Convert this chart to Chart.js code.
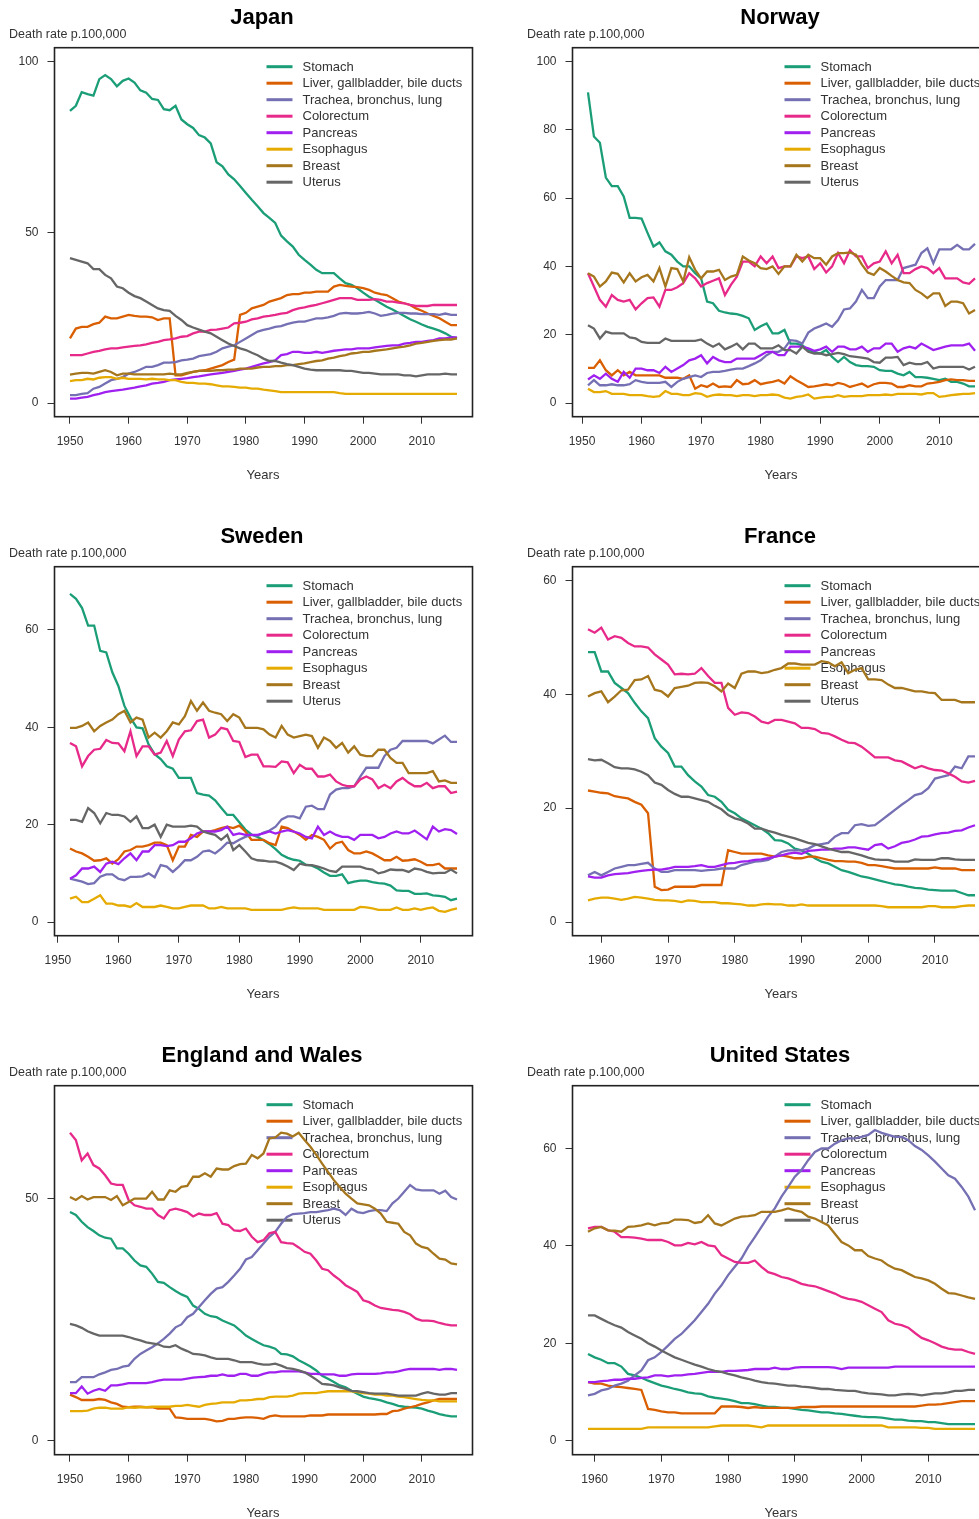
<!DOCTYPE html>
<html><head><meta charset="utf-8">
<script src="https://cdn.jsdelivr.net/npm/chart.js@4.4.1/dist/chart.umd.min.js"></script>
<style>
html,body{margin:0;padding:0;background:#fff;}
body{width:979px;height:1519px;overflow:hidden;position:relative;font-family:"Liberation Sans",Arial,sans-serif;}
.cell{position:absolute;width:518px;height:519px;}
.cell canvas{position:absolute;left:0;top:0;}
.title{position:absolute;left:112px;width:300px;text-align:center;top:6px;font-size:22px;font-weight:bold;line-height:22px;color:#000;white-space:nowrap;}
.ylab{position:absolute;left:9px;top:28px;font-size:12.5px;line-height:13px;color:#333;white-space:nowrap;}
.xlab{position:absolute;left:163px;width:200px;text-align:center;top:468px;font-size:13px;line-height:13px;color:#333;}
</style></head><body>
<script>
// ---------- categories ----------
const seriesNames = ['Stomach','Liver, gallbladder, bile ducts','Trachea, bronchus, lung','Colorectum','Pancreas','Esophagus','Breast','Uterus'];
const seriesColors = ['#1B9E77','#D95F02','#7570B3','#E7298A','#A020F0','#E6AB02','#A6761D','#666666'];
const countryNames = ['Japan','Norway','Sweden','France','England and Wales','United States'];
const firstYears = [1950,1951,1952,1958,1950,1959];
const lastYears  = [2016,2016,2016,2016,2016,2017];
const decadeTicks = [1950,1960,1970,1980,1990,2000,2010];
const decadeTicks60 = [1960,1970,1980,1990,2000,2010];
const yTicks100by50 = [0,50,100];
const yTicks100by20 = [0,20,40,60,80,100];
const yTicks60by20 = [0,20,40,60];
const yTicks50 = [0,50];

// ---------- Japan 1950-2016 ----------
const japanStomach = [85.5,87,91,90.4,90,94.8,96,94.8,92.7,94.3,
95,93.8,91.5,90.8,89,88.7,86,85.7,87,83,
81.6,80.5,78.4,77.7,76,70.5,69.3,66.9,65.5,63.5,
61.5,59.5,57.6,55.6,54.2,52.7,49,47.3,45.8,43.4,
41.9,40.5,39,38,38,38,36.5,35.1,34.6,33.6,
32.3,31.1,30.2,29.2,28.2,27.4,26.4,25.5,24.5,23.8,
23,22.3,21.8,21.2,20.4,19.4,18.9];
const japanLiver = [18.9,21.8,22.3,22.3,23.1,23.5,25.3,24.8,24.8,25.3,
25.8,25.5,25.3,25.3,25.1,24.3,24.8,24.8,8.1,8.1,
8.6,9.1,9.4,9.6,10.1,10.6,11.1,12,12.7,25.8,
26.4,27.7,28.2,28.7,29.7,30.2,30.7,31.6,31.9,31.9,
32.3,32.3,32.6,32.6,32.6,34.1,34.6,34.3,34.1,33.9,
33.6,33.1,32.3,31.9,31.6,30.7,29.7,29.2,28.7,27.7,
27,26.2,25.5,24.8,23.8,22.8,22.8];
const japanLung = [2.3,2.3,2.7,2.9,4.2,4.7,5.7,6.7,7.1,7.6,
8.6,9.1,9.8,10.6,10.6,11.1,11.8,11.8,12,12.5,
12.7,13,13.7,14,14.3,15,16,16.5,16.9,17.9,
18.9,19.9,20.9,21.4,21.8,22.3,22.5,23.1,23.5,23.8,
23.8,24.3,24.8,24.8,25.1,25.5,26.2,26.4,26.2,26.2,
26.4,26.7,26.2,25.5,25.8,26.2,26.4,26.4,26.2,26.2,
26,26,26,25.8,26.2,25.8,25.8];
const japanColorectum = [14,14,14,14.5,15,15.3,15.7,16,16,16.3,
16.5,16.7,16.9,17.2,17.6,17.9,18.4,18.6,18.9,19.4,
19.6,20.4,20.9,20.9,21.4,21.5,21.8,22.1,23.3,23.5,
23.8,24.5,24.8,25.3,25.5,25.8,26.2,26.4,27.2,27.7,
28,28.4,28.7,29.2,29.7,30.2,30.7,30.7,30.7,30.2,
30.2,30.2,30.4,30.2,29.7,29.7,29.4,29.2,28.7,28.4,
28.4,28.4,28.7,28.7,28.7,28.7,28.7];
const japanPancreas = [1.3,1.3,1.6,1.8,2.3,2.7,3.2,3.5,3.7,3.9,
4.2,4.5,4.9,5.2,5.7,5.9,6.2,6.7,6.9,7.1,
7.3,7.6,7.8,8.1,8.4,8.6,8.8,9.1,9.4,9.8,
10.1,10.6,11.1,11.6,12,12.5,14,14.3,15,15,
14.7,14.7,15,14.7,15,15.3,15.5,15.7,15.7,16,
16,16,16.3,16.5,16.7,16.9,16.9,17.4,17.6,17.9,
17.9,18.2,18.4,18.9,18.9,19.2,19.2];
const japanEsophagus = [6.4,6.7,6.7,7.1,6.9,7.4,7.6,7.6,7.1,7.4,
7.1,7.1,7.1,6.9,7.1,6.9,6.9,6.7,6.7,6.2,
5.9,5.9,5.7,5.7,5.5,5.2,4.9,4.9,4.7,4.5,
4.5,4.2,4.2,3.9,3.7,3.5,3.2,3.2,3.2,3.2,
3.2,3.2,3.2,3.2,3.2,3.2,2.9,2.7,2.7,2.7,
2.7,2.7,2.7,2.7,2.7,2.7,2.7,2.7,2.7,2.7,
2.7,2.7,2.7,2.7,2.7,2.7,2.7];
const japanBreast = [8.3,8.6,8.8,8.8,8.6,9.1,9.6,9.1,8.1,8.6,
8.6,8.4,8.4,8.4,8.4,8.4,8.4,8.6,8.4,8.4,
8.8,9.1,9.4,9.4,9.4,9.6,9.6,9.8,9.8,10.1,
10.1,10.1,10.4,10.6,10.6,10.8,10.8,11.1,11.1,11.4,
11.6,12,12.3,12.5,13,13.3,13.7,14,14.5,14.7,
15,15,15.3,15.5,15.7,16,16.3,16.5,16.9,17.4,
17.6,17.9,18.2,18.4,18.6,18.6,18.9];
const japanUterus = [42.4,41.9,41.4,40.9,39.2,39.2,37.5,36.5,34.1,33.6,
32.3,31.3,30.7,29.7,28.7,27.7,27.2,27,25.5,24.3,
22.8,22.1,21.5,20.9,20.4,19.4,18.4,17.4,16.7,16,
15.5,14.7,14,13,12.3,12.3,11.8,11.4,11.1,10.6,
10.1,9.8,9.6,9.6,9.6,9.6,9.6,9.4,9.4,9.1,
8.8,8.8,8.6,8.4,8.4,8.4,8.4,8.1,8.1,7.8,
8.1,8.4,8.4,8.4,8.6,8.4,8.4];

// ---------- Norway 1951-2016 ----------
const norwayStomach = [90.9,78,76.2,66,63.5,63.5,60.5,54.2,54.2,
54,49.8,45.8,47,44.4,43.4,41.4,40,40,38,
36.5,29.7,29.2,27,26.5,26.2,26,25.5,24.8,21.4,
22.5,23.3,20.4,20.4,21.4,17.4,17.4,16.9,15.5,15,
14.5,15.5,13.5,12,13.5,12,11.1,10.8,10.8,10.6,
9.6,9.4,9.4,8.6,8.1,9.1,7.6,7.6,7.4,7.1,
6.7,7.1,6.2,6.2,5.7,4.9,4.9];
const norwayLiver = [10.3,10.3,12.5,9.6,8.1,9.6,8.1,9.1,8.1,
8.1,8.1,8.1,8.1,7.4,7.4,7.4,7.1,8.1,4.2,
5.2,4.7,5.7,4.7,4.9,4.7,6.7,5.5,5.7,6.7,
5.5,5.9,6.2,6.7,5.7,7.8,6.7,5.7,4.7,4.9,
5.2,5.5,5.2,5.9,5.5,4.7,5.2,5.7,4.7,5.5,
5.9,5.9,5.7,4.7,4.7,5.2,4.9,4.9,5.7,5.9,
6.2,6.7,6.9,6.7,6.7,6.5,6.5];
const norwayLung = [5.2,6.7,5.2,5.2,5.5,5.2,5.2,5.5,6.7,
6.2,5.9,5.9,5.9,6.2,4.7,6.2,7.1,7.6,8.1,
7.6,8.8,9.1,9.1,9.4,9.8,10.1,10.1,10.8,11.6,
12.5,14,15,15,16,18.4,18.2,17.4,20.6,21.8,
22.5,23.3,22.3,24.3,27.4,27.7,29.7,33.1,30.7,30.7,
34.1,36,36,36,39.5,40,40.5,43.9,45.3,40.9,
45,45,45,46.3,45,45,46.6];
const norwayColorectum = [38,34.1,30.2,28.2,31.6,30.2,29.7,30.2,27.4,
29.2,30.7,30.9,28.2,33.1,33.1,33.9,35.1,38,36.5,
34.1,35.1,35.8,36.5,31.6,34.6,37,41.4,41.4,40,
42.9,40.9,42.9,39.5,40,40,42.9,42.4,42.9,39.2,
40.9,38.2,40,43.9,40.9,44.7,42.9,42.9,39.5,40.9,
41.4,44.4,40.9,43.4,38,38,39.2,40,39.5,38,
39.5,36.5,36.5,36.5,35.3,34.9,36.5];
const norwayPancreas = [6.9,8.1,7.1,8.6,7.1,6.2,9.1,7.4,10.1,
10.1,9.6,9.6,8.8,10.6,9.1,10.1,11.1,12.5,13,
14,11.6,13.5,12.5,12,12,13,13,13,13,
14,15,15,14,14,16.5,16.5,16.5,16,15.3,
15.7,16.5,15,16.5,16.5,15.7,15.7,16.5,15,16,
16,17.4,17.4,15,16,16.5,16,17.4,16.5,15.5,
16,16.5,16.9,16.9,16.9,17.4,15.3];
const norwayEsophagus = [4.2,3.2,3.2,3.5,2.7,2.7,2.7,2.3,2.3,
2.3,2,1.8,2,3.5,2.7,2.7,2.3,2.3,2.9,
2.7,1.8,2.3,2.5,2.3,2.3,2,2.3,2.3,2,
2.3,2.3,2.5,2.3,1.6,1.3,1.8,2,2.5,1.3,
1.6,1.8,1.8,2.3,1.8,2,2,2,2.3,2.3,
2.3,2.5,2.3,2.7,2.7,2.7,2.7,2.5,2.9,2.9,
1.8,2,2.3,2.5,2.7,2.7,2.9];
const norwayBreast = [38,37,34.1,35.6,38.2,37.8,35.3,38,35.6,
36.8,37.5,35.6,39.5,34.1,39.5,39.2,35.6,42.7,39,
36.5,38.5,38.5,39,36,37,37.5,42.9,41.7,40.9,
39.5,39.2,40,37.8,40,40,43.4,41.4,43.4,42.4,
42.4,40.5,42.9,43.9,43.9,44.1,43.4,40.5,38.2,37.5,
39.5,38.5,37.2,36,35.3,35.1,33.1,32.1,30.7,32.1,
32.1,28.4,29.7,29.7,29.2,26.2,27.2];
const norwayUterus = [22.8,21.8,18.9,20.9,20.4,20.4,20.4,19.2,18.9,
17.9,17.6,17.6,17.6,18.9,18.2,18.2,18.2,18.2,18.2,
18.6,17.4,16.5,17.4,15.7,16.5,17.4,15.7,17.4,17.4,
16,16,16,16.9,15.5,15.5,14.5,16.5,15,14.5,
14.5,14,14.3,14.7,14.3,13.7,13.5,13.3,13,12,
11.8,13.3,13.3,13.5,11.1,11.8,11.4,11.4,12,10.1,
10.6,10.6,10.6,10.6,10.6,9.8,10.6];

// ---------- Sweden 1952-2016 ----------
const swedenStomach = [67.4,66.4,64.5,60.9,60.9,55.7,55.4,51.3,
48.5,44.4,42,40,39.8,36.5,34.5,33.5,32,31.5,
29.6,29.6,29.6,26.5,26.2,26,25,23.5,22,22,
20.5,19,18,17.5,16.8,16,15,13.8,13.2,12.8,
12.6,11.8,11.6,11,10.2,9.5,9.5,9.8,8,8.3,
8.5,8.5,8.2,8,7.9,7.5,6.5,6.4,6.4,5.8,
5.8,5.9,5.5,5.4,5.2,4.5,4.8];
const swedenLiver = [15.1,14.5,14.1,13.4,12.6,12.7,13.1,12,
12.9,14.5,14.8,15.5,15.5,15.8,16.3,16.3,15.8,12.7,
15.5,15.5,17.9,17.5,18.6,18.6,18.9,19.3,19.6,19.3,
19.8,18.6,16.9,16.9,16.9,16.2,15.8,19.6,19.3,18.6,
17.9,16.9,17.9,17.5,16.9,15.1,16.2,16.5,14.8,14.1,
14.1,14.5,14.1,13.4,12.7,12.7,13.4,12.6,12.7,12.9,
12.4,11.7,11.7,12,11,11,11];
const swedenLung = [8.9,8.6,8.3,7.8,8,9.3,9.8,9.8,
8.9,8.6,9.3,9.3,9.4,10,9.2,11.7,11.4,10.3,
11.4,12.7,12.7,13.4,14.5,14.7,14.1,15.1,16.3,16.2,
16.9,17.5,17.9,17.7,18.4,18.8,19.6,21.1,21.7,21.7,
21.3,23.7,23.9,23.2,23.2,26.2,27.2,27.5,27.5,27.9,
29.9,31.7,31.7,31.7,34.1,35.4,35.8,37.2,37.2,37.2,
37.2,37.2,36.7,37.5,38.3,37,37];
const swedenColorectum = [36.8,36.1,32,34.1,35.4,35.6,37.4,36.8,
36.7,35.1,39.2,34.1,36.1,36.1,34.4,34.8,37.2,34.1,
37.5,39.2,39.4,41.3,41.6,37.9,38.5,39.9,39.6,37.2,
37,33.9,34.4,34.4,32,32,31.9,33,32.8,30.6,
32.3,31.5,31.5,29.9,29.9,30.3,28.9,28.2,27.9,27.9,
29.3,29.9,29.3,27.5,28.2,27.5,28.9,29.6,28.6,27.9,
27.9,28.6,27.5,27.9,27.9,26.5,26.8];
const swedenPancreas = [8.9,9.6,11,11,11.4,10.3,12,12.4,
11.9,13.1,14.1,12.7,14.5,14.5,15.8,15.8,15.6,15.8,
16.5,16.5,17.2,18.2,18.6,18.6,18.6,18.9,19.6,17.9,
18.2,17.9,17.9,17.9,18.2,18.6,18.2,18.6,18.9,18.6,
18.2,17.5,17.2,19.6,17.9,18.6,17.9,17.5,17.5,16.9,
17.9,17.9,17.9,17.2,17.5,18.2,18.6,18.2,18.2,18.8,
17.9,17,19.6,18.6,19.1,18.9,18.1];
const swedenEsophagus = [4.8,5.2,4.1,4.1,4.8,5.5,3.8,3.8,
3.4,3.4,3.1,3.9,3.1,3.1,3.1,3.4,3.1,2.8,
2.8,3.1,3.4,3.4,3.4,2.8,2.8,3.1,2.8,2.8,
2.8,2.8,2.5,2.5,2.5,2.5,2.5,2.5,2.8,3,
2.8,2.8,2.8,2.8,2.5,2.5,2.5,2.5,2.5,2.5,
3.1,3,2.8,2.5,2.5,2.5,3,2.5,2.5,2.8,
2.5,2.8,3,2.3,2.1,2.5,2.8];
const swedenBreast = [39.9,39.9,40.3,41,39.2,40.3,41,41.6,
42.7,43.4,41,42,41.6,37.9,38.9,37.9,39.2,41,
40.6,42.3,45.4,43.4,45.1,43.4,43,42.7,41.3,42.7,
42,39.9,39.9,39.9,39.6,38.5,37.9,40.3,38.5,37.9,
38.2,38.5,38.2,35.8,37.9,37.2,35.8,36.8,34.8,36.1,
34.4,34.1,34.1,35.4,35.4,33.7,32.7,32.7,30.6,30.6,
30.6,30.6,31,28.9,29.1,28.6,28.6];
const swedenUterus = [21,21,20.6,23.4,22.4,20.3,22.4,22,
22,21.7,20.6,21.7,19.3,19.3,20,17.5,20,19.6,
19.6,19.6,19.8,19.6,18.6,18.2,17.9,16.9,17.9,14.8,
15.8,14.5,13.1,12.7,12.6,12.4,12.4,12,11.4,10.7,
12,11.7,11.7,11.4,11,10.5,10.3,11.4,11.4,11.4,
11.4,11,10.8,10,10.3,10.8,10.7,10.7,10.3,11,
10.8,10.3,10,10.1,10.1,10.8,10];

// ---------- France 1958-2016 ----------
const franceStomach = [47.4,47.4,
44,44,42,41.1,40.2,38.5,37,35.8,32.3,30.8,
29.7,27.3,27.3,25.8,24.7,23.8,22.3,22,21.1,19.7,
19.1,18.2,17.6,17,16.4,15.6,14.4,14.3,13.8,12.9,
12.6,12,11.2,10.6,10.3,9.7,9.1,8.8,8.4,8,
7.8,7.5,7.2,6.9,6.6,6.5,6.2,6,5.9,5.7,
5.6,5.5,5.5,5.5,5.1,4.7,4.7];
const franceLiver = [23.1,22.9,
22.7,22.6,22.1,21.9,21.7,21.1,20.6,19.1,6.2,5.6,
5.7,6.2,6.2,6.2,6.2,6.5,6.5,6.5,6.5,12.6,
12.3,12,12,12,12,11.7,11.5,11.7,11.5,11.2,
11.2,11.5,11.5,11.2,10.9,10.7,10.7,10.6,10.6,10.4,
10,10,9.8,9.6,9.4,9.4,9.4,9.4,9.4,9.4,
9.6,9.4,9.4,9.4,9.1,9.1,9.1];
const franceLung = [8.2,8.8,
8.2,8.8,9.4,9.7,10,10,10.2,10.4,9.4,8.8,
8.8,9.1,9.1,9.1,9.1,9,9.1,9.2,9.4,9.4,
9.4,10,10.3,10.6,10.7,10.9,11.5,12.3,12.6,12.6,
12.6,12.9,13.5,13.7,13.9,15,15.6,15.6,17,17.2,
16.9,17,17.9,18.8,19.7,20.6,21.4,22.3,22.6,23.5,
25.2,25.5,25.8,27.3,27,29.1,29.1];
const franceColorectum = [51.4,50.8,
51.7,49.6,50.2,49.9,49,48.4,48.4,48.2,47,46.1,
45.2,43.5,43.6,43.5,43.6,44.6,43.2,42,42,37.6,
36.4,36.8,36.7,36.1,35.2,34.9,35.5,35.5,35.2,34.9,
34.1,34.1,33.9,33.2,33.1,32.6,32,31.5,31.4,30.8,
29.9,28.9,28.9,28.9,28.4,28.2,27.6,27,27.4,27,
26.7,26.6,26.1,25.5,24.7,24.5,24.8];
const francePancreas = [8,7.8,
7.8,8.2,8.4,8.5,8.6,8.8,9,9.1,9.2,9.2,
9.4,9.7,9.7,9.7,9.8,10,9.7,9.7,10,10.3,
10.4,10.6,10.7,10.9,11,11.2,11.5,11.7,12,12.2,
12,12.5,12.6,12.7,12.7,12.9,12.9,13.1,13.1,12.9,
12.7,13.5,13.7,12.9,13.3,13.9,14.1,14.5,15,15.1,
15.4,15.6,15.7,16,16.1,16.6,17];
const franceEsophagus = [3.8,4.1,
4.3,4.3,4.1,3.9,4.1,4.4,4.3,4.1,3.9,3.8,
3.8,3.7,3.5,3.8,3.7,3.5,3.5,3.5,3.3,3.3,
3.2,3.1,2.9,2.9,3.1,3.2,3.1,3.1,2.9,2.9,
3.1,2.9,2.9,2.9,2.9,2.9,2.9,2.9,2.9,2.9,
2.9,2.9,2.8,2.6,2.6,2.6,2.6,2.6,2.6,2.8,
2.8,2.6,2.6,2.6,2.8,2.9,2.9];
const franceBreast = [39.6,40.2,
40.5,38.6,39.6,40.7,40.8,42.5,42.6,43.2,40.8,40.5,
39.6,41.1,41.3,41.5,42,42.1,42,41.4,40.5,41.9,
41.1,43.6,44,44,43.7,43.9,44.3,44.6,45.4,45.4,
45.2,45.2,45.2,45.8,45.6,44.9,45.6,43.7,44.3,44.6,
42.6,42.6,42.5,41.7,41.1,41.1,40.8,40.5,40.5,40.3,
40.2,39,39,39,38.6,38.6,38.6];
const franceUterus = [28.6,28.4,
28.5,27.9,27.2,27,27,26.8,26.4,25.8,24.5,24.1,
23.2,22.5,22,22,21.7,21.4,21.1,20.4,19.8,18.8,
18.2,17.9,17.3,16.4,16.4,16,15.7,15.3,15,14.7,
14.3,13.9,13.7,13.3,12.9,12.6,12.3,12.3,12,11.7,
11.3,11,10.9,10.9,10.6,10.6,10.6,11,10.9,10.9,
10.9,11.2,11.2,11,10.9,10.9,10.9];

// ---------- England and Wales 1950-2016 ----------
const englandStomach = [47.2,46.6,45.2,44.1,43.3,42.4,41.9,41.7,39.7,39.7,
38.6,37.2,36.2,35.9,34.5,32.8,32.6,31.7,30.9,30.2,
29.7,27.9,27.2,26.2,25.7,25.5,24.8,24.3,23.8,22.8,
21.7,21,20.3,19.7,19.4,19,17.9,17.8,17.4,16.6,
16,15.3,14.5,13.4,12.8,12.1,11.4,11,10.3,9.7,
9.1,8.8,8.6,8.3,7.9,7.6,7.2,7,6.9,6.8,
6.6,6.2,5.9,5.5,5.2,5,5];
const englandLiver = [9.5,9,8.4,8.4,8.4,8.6,8.4,7.9,7.6,7,
6.9,7,7,6.9,6.9,6.6,6.6,6.6,4.8,4.7,
4.5,4.5,4.5,4.5,4.3,4,4.1,4.5,4.5,4.7,
4.8,4.8,4.7,4.5,5,5.2,5,5,5,5,
5,5.2,5.2,5.2,5.4,5.4,5.4,5.4,5.4,5.4,
5.4,5.4,5.4,5.5,5.5,6.1,6.2,6.6,6.9,7.2,
7.6,7.9,8.3,8.6,8.6,8.6,8.6];
const englandLung = [12.1,12.1,13.1,13.1,13.1,13.7,14.1,14.6,14.8,15.3,
15.5,16.9,17.9,18.6,19.3,20.1,21,22.1,23.4,24,
25.5,26.2,27.6,29,30.3,31.4,31.7,32.8,34.1,35.5,
37.4,37.9,39.3,40.7,42.1,43.1,44.8,46.2,46.8,46.9,
47,47.2,47.2,47.4,47.6,47.9,47.6,46.6,47.9,47.2,
47,47.4,47.6,47.6,47.4,49,50,51.4,52.8,51.9,
51.7,51.7,51.7,51,51.6,50.3,49.8];
const englandColorectum = [63.6,62.1,57.9,59.3,56.9,56.2,54.8,53.1,52.8,52.8,
49.7,48.6,48.3,47.9,47.9,46.6,45.9,47.6,47.9,47.6,
47.2,46.3,46.9,46.6,46.6,47,44.8,44.5,43.4,43.3,
43.8,42.1,41,41.4,42.8,43.1,41,40.8,40.7,39.9,
39,38.6,37.2,35.5,35.2,34.1,33.2,32.1,31.4,30.7,
29,28.6,27.9,27.4,27.2,27,26.9,26.6,26.1,25.2,
24.8,24.8,24.7,24.3,24,23.8,23.8];
const englandPancreas = [9.8,9.8,11.2,9.7,10.3,10.7,10.3,11.4,11.4,11.6,
11.9,11.9,11.9,11.9,12.1,12.4,12.6,12.6,12.6,12.6,
12.8,13,13.1,13.2,13.4,13.4,13.7,13.4,13.4,13.8,
13.8,13.4,13.4,13.8,14.1,14.1,14.3,14.3,14.3,14.3,
14.1,13.8,13.8,13.7,13.7,13.7,13.4,13.4,13.7,13.8,
13.8,13.8,13.8,13.9,14.1,14.1,14.3,14.6,14.8,14.8,
14.8,14.8,14.8,14.6,14.8,14.8,14.6];
const englandEsophagus = [6.1,6.1,6.1,6.2,6.6,6.8,6.8,6.6,6.6,6.6,
6.9,6.8,6.9,6.9,7,7,7,7,7.2,7.2,
7.4,7.2,7,7.4,7.6,7.7,7.9,7.9,7.9,8.3,
8.3,8.4,8.6,8.6,9,9.1,9.1,9.1,9.3,9.7,
9.8,9.8,9.8,10,10.2,10.2,10.2,10.2,10.2,10,
9.8,9.7,9.5,9.5,9.3,9.3,9.1,9,8.8,8.6,
8.4,8.3,8.3,8.1,8.1,8.1,8.1];
const englandBreast = [50.3,49.7,50.5,49.8,50.3,50.3,50.3,49.7,50.5,48.6,
49.3,50,50,50,51.4,49.8,49.8,51.7,51.4,52.4,
52.6,54.5,54.5,55.2,54.5,56.2,56,56,56.7,57.1,
57.2,59,58.3,59.3,62.4,62.6,63.6,63.4,62.8,63.6,
62.1,60.7,59,57.2,55.5,53.8,52.4,51,50,49,
48.8,48.6,47.9,46.9,45.2,45,44.8,43.1,42.4,40.7,
40,39.7,38.6,37.6,37.4,36.6,36.4];
const englandUterus = [24.1,23.8,23.3,22.6,22.1,21.7,21.7,21.7,21.7,21.7,
21.4,21,20.7,20.3,20.1,19.9,19.4,19.3,19.7,19,
18.5,17.9,17.8,17.6,17.2,16.9,16.9,16.9,16.6,16.2,
16.2,16.2,15.9,15.7,15.7,15.9,15.5,15,14.8,14.5,
14.1,13.4,12.6,11.7,11.6,11.4,11,10.7,10.3,10.2,
10,9.8,9.7,9.7,9.7,9.5,9.3,9.3,9.3,9.3,
9.7,10,9.7,9.5,9.5,9.8,9.8];

// ---------- United States 1959-2017 ----------
const usStomach = [17.8,
17.1,16.6,15.9,15.9,15.2,13.7,13.4,12.9,12.3,11.8,
11.3,11,10.6,10.3,9.9,9.7,9.6,9.1,8.8,8.6,
8.4,8.1,7.7,7.7,7.5,7.2,6.9,6.9,6.7,6.7,
6.5,6.3,6.2,6,5.8,5.8,5.6,5.5,5.3,5.1,
4.9,4.8,4.8,4.7,4.5,4.3,4.3,4.1,4,4,
3.8,3.8,3.6,3.4,3.4,3.4,3.4,3.4];
const usLiver = [12,
11.7,11.7,11.3,11.1,11,10.8,10.6,10.4,6.5,6.3,
6,5.8,5.8,5.6,5.6,5.6,5.6,5.6,5.6,7,
7,7,6.9,6.7,6.9,6.7,6.7,6.7,6.7,6.7,
6.7,6.9,6.9,6.9,7,7,7,7,7,7,
7,7,7,7,7,7,7,7,7,7.2,
7.4,7.4,7.5,7.7,7.9,8.1,8.1,8.1];
const usLung = [9.3,
9.6,10.3,10.6,11.3,11.7,12.3,13.4,14.4,16.5,17.1,
18.2,19.5,20.9,21.9,23.3,24.7,26.4,28.1,30.2,31.9,
34,35.7,37.4,39.8,41.8,43.9,46,47.7,50.1,52.1,
54.2,55.6,57.6,59.3,60,60,61,61.7,62.1,62.1,
62.4,62.8,63.8,63.2,62.8,62.4,62.4,61.7,60.5,59.7,
58.6,57.3,55.9,54.5,53.8,52.1,50.1,47.3];
const usColorectum = [43.6,
43.9,43.9,43.2,42.9,41.8,41.8,41.7,41.5,41.2,41.2,
41.2,40.8,40.1,40.1,40.6,40.3,40.8,40.1,39.9,38.1,
37.4,36.7,36.5,36.5,37,35.7,34.6,34.2,33.6,33.3,
32.8,32.2,31.9,31.7,31.2,30.7,30.2,29.5,29.1,28.9,
28.5,27.8,27.1,26.4,24.7,24,23.7,23.2,22.1,21.1,
20.6,20,19.3,18.9,18.7,18.7,18.2,17.8];
const usPancreas = [12,
12,12.2,12.3,12.5,12.5,12.7,12.7,12.9,13,13.4,
13.4,13.2,13.4,13.4,13.6,13.7,13.9,14.1,14.1,14.1,
14.3,14.3,14.4,14.5,14.7,14.7,14.7,15,14.7,14.7,
15,15.1,15.1,15.1,15.1,15.1,15,14.7,15,15,
15,15,15,15,15,15.2,15.2,15.2,15.2,15.2,
15.2,15.2,15.2,15.2,15.2,15.2,15.2,15.2];
const usEsophagus = [2.4,
2.4,2.4,2.4,2.4,2.4,2.4,2.4,2.4,2.7,2.7,
2.7,2.7,2.7,2.7,2.7,2.7,2.7,2.7,2.9,3.1,
3.1,3.1,3.1,3.1,2.9,2.7,3.1,3.1,3.1,3.1,
3.1,3.1,3.1,3.1,3.1,3.1,3.1,3.1,3.1,3.1,
3.1,3.1,3.1,3.1,2.7,2.7,2.7,2.7,2.7,2.6,
2.6,2.4,2.4,2.4,2.4,2.4,2.4,2.4];
const usBreast = [42.9,
43.6,43.9,43.2,43.1,42.9,43.9,44,44.2,44.6,44.2,
44.6,44.7,45.4,45.4,45.3,44.7,44.9,46.3,44.6,44.2,
44.9,45.6,46,46.1,46.3,47,47,47,47.3,47.7,
47.3,47,46,45.6,44.9,44.2,42.5,40.8,40.1,39.1,
39.1,37.9,37.4,37,36,35.3,35,34.3,33.6,33.3,
32.9,32.2,31.2,30.3,30.2,29.8,29.4,29.1];
const usUterus = [25.7,
25.7,25,24.3,23.7,23.2,22.3,21.6,20.9,20,19.3,
18.5,17.8,17.1,16.6,16.1,15.6,15.2,14.7,14.3,14.1,
13.7,13.4,13,12.7,12.3,12,11.8,11.7,11.5,11.3,
11.3,11.1,11,10.8,10.6,10.6,10.4,10.3,10.2,10.2,
9.9,9.7,9.6,9.5,9.3,9.3,9.5,9.6,9.5,9.3,
9.5,9.7,9.7,9.9,10.2,10.2,10.4,10.4];

// ---------- panel setup (axis ranges follow R's 4% padding) ----------
const panels = [
  {series:[japanStomach,japanLiver,japanLung,japanColorectum,japanPancreas,japanEsophagus,japanBreast,japanUterus],
   xr:[1947.36,2018.64], yr:[-4,104], xt:decadeTicks, yt:yTicks100by50},
  {series:[norwayStomach,norwayLiver,norwayLung,norwayColorectum,norwayPancreas,norwayEsophagus,norwayBreast,norwayUterus],
   xr:[1948.4,2018.6], yr:[-4,104], xt:decadeTicks, yt:yTicks100by20},
  {series:[swedenStomach,swedenLiver,swedenLung,swedenColorectum,swedenPancreas,swedenEsophagus,swedenBreast,swedenUterus],
   xr:[1949.44,2018.56], yr:[-2.8,73], xt:decadeTicks, yt:yTicks60by20},
  {series:[franceStomach,franceLiver,franceLung,franceColorectum,francePancreas,franceEsophagus,franceBreast,franceUterus],
   xr:[1955.68,2018.32], yr:[-2.4,62.4], xt:decadeTicks60, yt:yTicks60by20},
  {series:[englandStomach,englandLiver,englandLung,englandColorectum,englandPancreas,englandEsophagus,englandBreast,englandUterus],
   xr:[1947.36,2018.64], yr:[-2.9,73.3], xt:decadeTicks, yt:yTicks50},
  {series:[usStomach,usLiver,usLung,usColorectum,usPancreas,usEsophagus,usBreast,usUterus],
   xr:[1956.68,2019.32], yr:[-2.9,72.9], xt:decadeTicks60, yt:yTicks60by20}
];

const FONT = '"Liberation Sans", Arial, Helvetica, sans-serif';

const framePlugin = {
  id: 'frameLegend',
  beforeDatasetsDraw(chart) {
    const {ctx, chartArea: a} = chart;
    ctx.save();
    ctx.font = '13px ' + FONT;
    ctx.textBaseline = 'middle';
    ctx.textAlign = 'left';
    chart.data.datasets.forEach((ds, i) => {
      const y = a.top + 19 + i * 16.5;
      const x0 = a.left + 212;
      ctx.strokeStyle = ds.borderColor;
      ctx.lineWidth = 3;
      ctx.beginPath(); ctx.moveTo(x0, y); ctx.lineTo(x0 + 26, y); ctx.stroke();
      ctx.fillStyle = '#333';
      ctx.fillText(ds.label, x0 + 36, y + 0.5);
    });
    ctx.restore();
  },
  afterDraw(chart) {
    const {ctx, chartArea: a} = chart;
    ctx.save();
    ctx.strokeStyle = '#222';
    ctx.lineWidth = 1.6;
    ctx.strokeRect(a.left, a.top, a.right - a.left, a.bottom - a.top);
    ctx.restore();
  }
};

function span(a, b) { const r = []; for (let y = a; y <= b; y++) r.push(y); return r; }

panels.forEach((p, k) => {
  const col = k % 2, row = Math.floor(k / 2);
  const cell = document.createElement('div');
  cell.className = 'cell';
  cell.style.left = (col * 518) + 'px';
  cell.style.top = (row * 519) + 'px';
  document.body.appendChild(cell);

  const canvas = document.createElement('canvas');
  canvas.width = 518; canvas.height = 519;
  canvas.style.width = '518px'; canvas.style.height = '519px';
  cell.appendChild(canvas);

  const t = document.createElement('div'); t.className = 'title'; t.textContent = countryNames[k]; cell.appendChild(t);
  const yl = document.createElement('div'); yl.className = 'ylab'; yl.textContent = 'Death rate p.100,000'; cell.appendChild(yl);
  const xl = document.createElement('div'); xl.className = 'xlab'; xl.textContent = 'Years'; cell.appendChild(xl);

  const years = span(firstYears[k], lastYears[k]);
  const datasets = p.series.map((vals, i) => ({
    label: seriesNames[i],
    data: vals.map((v, j) => ({x: years[j], y: v})),
    borderColor: seriesColors[i],
    borderWidth: 2.3,
    pointRadius: 0,
    tension: 0,
    fill: false,
    order: 7 - i
  }));

  new Chart(canvas, {
    type: 'line',
    data: {datasets},
    options: {
      responsive: false,
      animation: false,
      devicePixelRatio: 1,
      layout: {padding: {left: 0, top: 47.7, right: 45.5, bottom: 0}},
      plugins: {legend: {display: false}, tooltip: {enabled: false}, title: {display: false}},
      scales: {
        x: {
          type: 'linear', min: p.xr[0], max: p.xr[1],
          afterBuildTicks: s => { s.ticks = p.xt.map(v => ({value: v})); },
          afterFit: s => { s.height = 102.3; },
          grid: {display: true, drawOnChartArea: false, drawTicks: true, tickLength: 7, color: '#333', lineWidth: 1},
          border: {display: false},
          ticks: {color: '#333', font: {family: FONT, size: 12}, padding: 11, maxRotation: 0, autoSkip: false,
                  callback: v => String(v)}
        },
        y: {
          type: 'linear', min: p.yr[0], max: p.yr[1],
          afterBuildTicks: s => { s.ticks = p.yt.map(v => ({value: v})); },
          afterFit: s => { s.width = 54.5; },
          grid: {display: true, drawOnChartArea: false, drawTicks: true, tickLength: 7, color: '#333', lineWidth: 1},
          border: {display: false},
          ticks: {color: '#333', font: {family: FONT, size: 12}, padding: 9, autoSkip: false,
                  callback: v => String(v)}
        }
      }
    },
    plugins: [framePlugin]
  });
});
</script>
</body></html>
